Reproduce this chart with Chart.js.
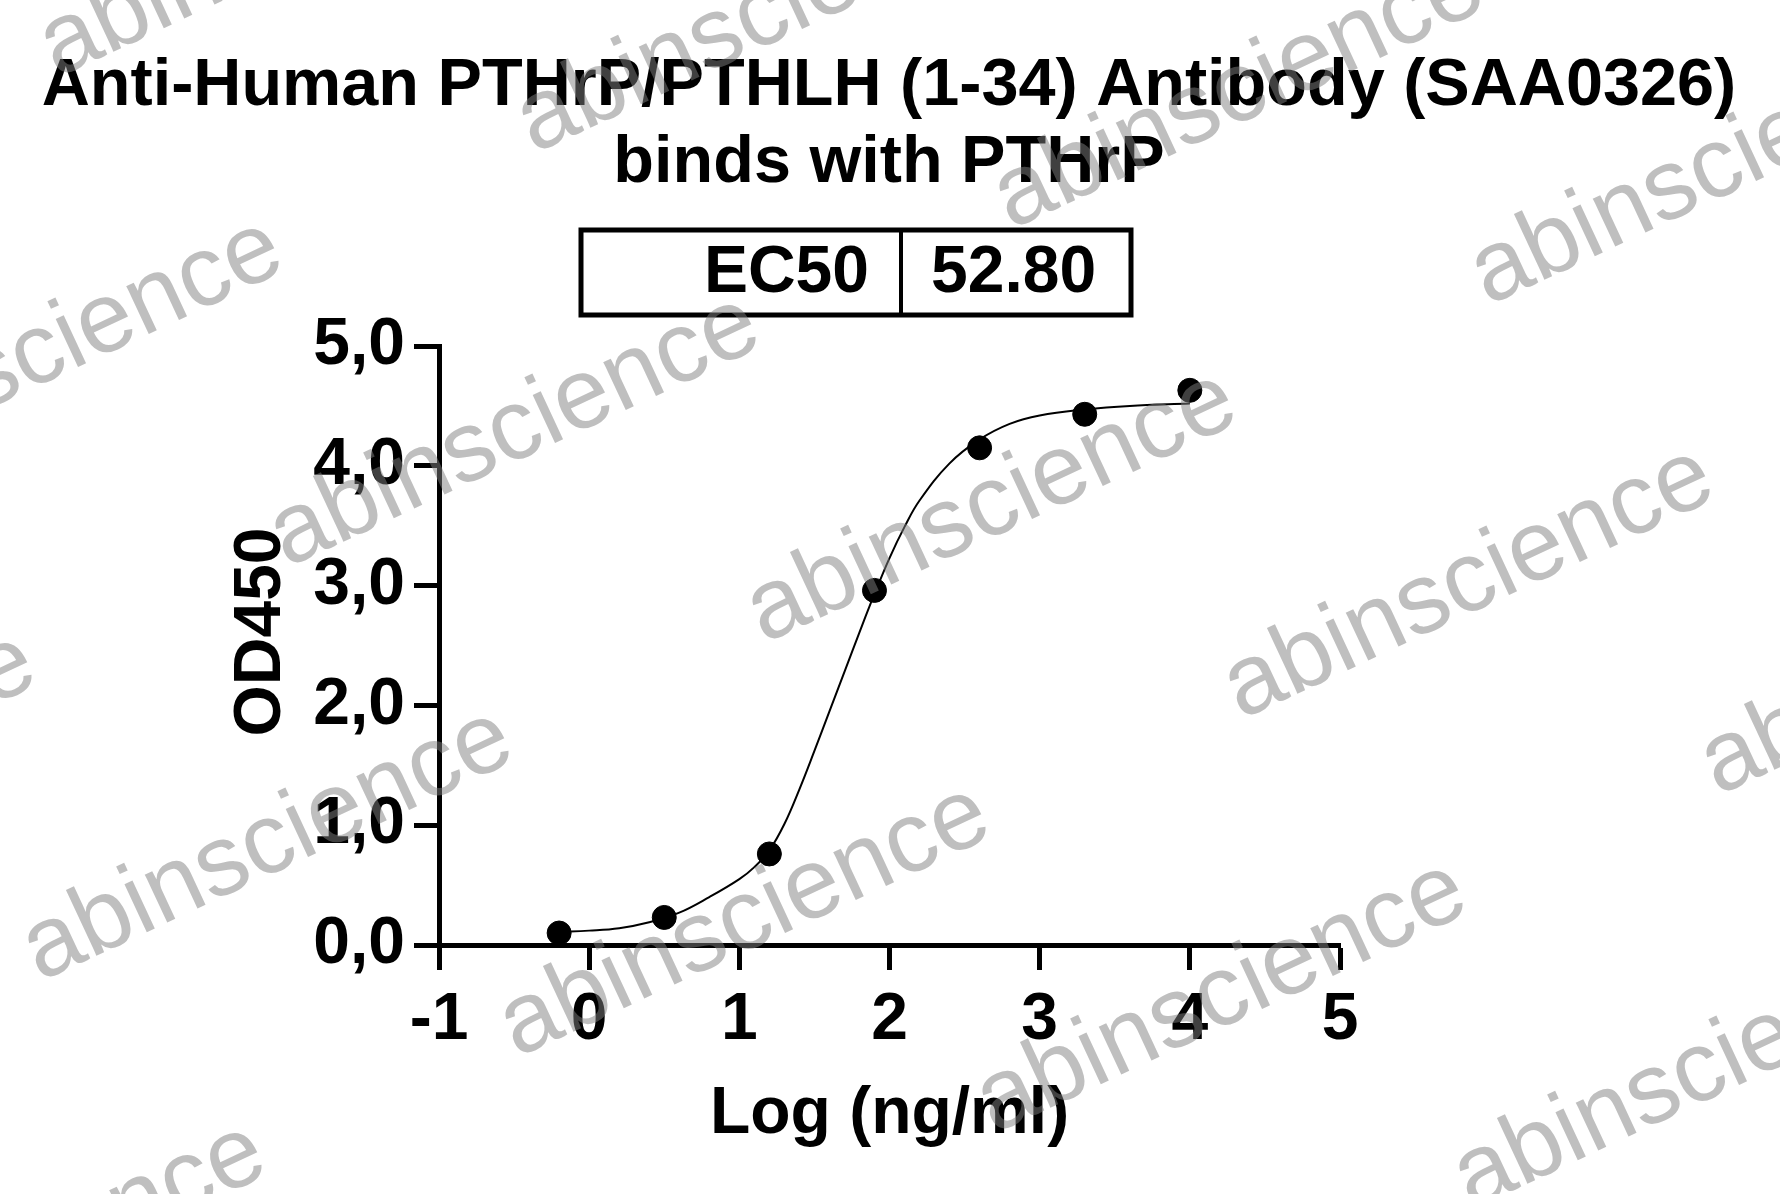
<!DOCTYPE html>
<html>
<head>
<meta charset="utf-8">
<title>PTHrP binding</title>
<script src="https://cdn.jsdelivr.net/npm/chart.js@4.4.1/dist/chart.umd.min.js"></script>
<style>
    body { margin: 0; background: #fff; }
    #wrap { width: 1780px; height: 1194px; }
</style>
</head>
<body>
<div id="wrap"><canvas id="elisaChart" width="1780" height="1194"></canvas></div>
<script>
    // measured points: log10 concentration (ng/ml) vs OD450
    const logConc = [-0.2, 0.5, 1.2, 1.9, 2.6, 3.3, 4.0];
    const od450 = [0.10, 0.23, 0.76, 2.96, 4.15, 4.43, 4.63];

    // fitted curve
    const fitX = [-0.2, 0.0, 0.2, 0.4, 0.6, 0.8, 1.0, 1.1, 1.2, 1.3, 1.4, 1.5, 1.6, 1.7, 1.8, 1.9, 2.0, 2.1, 2.2, 2.4, 2.6, 2.8, 3.0, 3.3, 3.6, 4.0];
    const fitY = [0.11, 0.12, 0.14, 0.19, 0.27, 0.40, 0.55, 0.65, 0.79, 1.01, 1.30, 1.62, 1.95, 2.28, 2.61, 2.93, 3.23, 3.49, 3.71, 4.02, 4.22, 4.35, 4.42, 4.47, 4.50, 4.52];

    const xTickLabels = ['-1', '0', '1', '2', '3', '4', '5'];
    const yTickLabels = ['0,0', '1,0', '2,0', '3,0', '4,0', '5,0'];

    const titleLines = ['Anti-Human PTHrP/PTHLH (1-34) Antibody (SAA0326)', 'binds with PTHrP'];
    const xTitle = 'Log (ng/ml)';
    const yTitle = 'OD450';
    const ec50Label = 'EC50';
    const ec50Value = '52.80';
    const watermark = 'abinscience';

    const FONT = "'Liberation Sans', Arial, sans-serif";

    const decor = {
        id: 'decor',
        afterDraw(chart) {
            const ctx = chart.ctx;
            ctx.save();
            ctx.fillStyle = '#000';
            ctx.textAlign = 'center';
            ctx.textBaseline = 'alphabetic';
            ctx.font = 'bold 66.6px ' + FONT;
            ctx.fillText(titleLines[0], 889, 105);
            ctx.fillText(titleLines[1], 889, 182);

            // EC50 table
            ctx.lineWidth = 5;
            ctx.strokeStyle = '#000';
            ctx.strokeRect(581, 230, 550, 85);
            ctx.lineWidth = 4;
            ctx.beginPath();
            ctx.moveTo(901, 230);
            ctx.lineTo(901, 315);
            ctx.stroke();
            ctx.font = 'bold 66px ' + FONT;
            ctx.textAlign = 'right';
            ctx.fillText(ec50Label, 869, 292);
            ctx.textAlign = 'left';
            ctx.fillText(ec50Value, 931, 292);

            // y axis title
            ctx.save();
            ctx.translate(280, 632);
            ctx.rotate(-Math.PI / 2);
            ctx.textAlign = 'center';
            ctx.fillText(yTitle, 0, 0);
            ctx.restore();

            // watermark tiles
            ctx.font = '100px ' + FONT;
            ctx.fillStyle = 'rgba(128,128,128,0.5)';
            ctx.textAlign = 'left';
            for (let r = -2; r <= 2; r++) {
                for (let c = -3; c <= 3; c++) {
                    const x = 764 + c * 477 - r * 247;
                    const y = 644 + c * 76 + r * 414;
                    ctx.save();
                    ctx.translate(x, y);
                    ctx.rotate(-25 * Math.PI / 180);
                    ctx.fillText(watermark, 0, 0);
                    ctx.restore();
                }
            }
            ctx.restore();
        }
    };

    const ctx = document.getElementById('elisaChart').getContext('2d');
    new Chart(ctx, {
        type: 'scatter',
        data: {
            datasets: [
                {
                    label: 'data',
                    data: logConc.map((x, i) => ({x: x, y: od450[i]})),
                    backgroundColor: '#000',
                    borderColor: '#000',
                    pointRadius: 12,
                    pointHoverRadius: 12,
                    order: 1
                },
                {
                    type: 'line',
                    label: 'fit',
                    data: fitX.map((x, i) => ({x: x, y: fitY[i]})),
                    borderColor: '#000',
                    borderWidth: 2,
                    pointRadius: 0,
                    fill: false,
                    tension: 0.4,
                    order: 2
                }
            ]
        },
        options: {
            responsive: false,
            animation: false,
            events: [],
            layout: {
                padding: {top: 346, right: 440, bottom: 0, left: 0}
            },
            scales: {
                x: {
                    type: 'linear',
                    min: -1,
                    max: 5,
                    afterFit: scale => { scale.height = 249; },
                    afterBuildTicks: scale => {
                        scale.ticks = xTickLabels.map(t => ({value: Number(t)}));
                    },
                    ticks: {
                        color: '#000',
                        padding: 11,
                        font: {family: FONT, size: 66, weight: 'bold'},
                        callback: (v, i) => xTickLabels[i]
                    },
                    grid: {drawOnChartArea: false, tickLength: 25, tickWidth: 5, tickColor: '#000'},
                    border: {display: true, width: 5, color: '#000'},
                    title: {
                        display: true,
                        text: xTitle,
                        color: '#000',
                        font: {family: FONT, size: 66, weight: 'bold'},
                        padding: {top: 0, bottom: 40}
                    }
                },
                y: {
                    min: 0,
                    max: 5,
                    afterFit: scale => { scale.width = 439; },
                    afterBuildTicks: scale => {
                        scale.ticks = yTickLabels.map((t, i) => ({value: i}));
                    },
                    ticks: {
                        color: '#000',
                        padding: 9,
                        font: {family: FONT, size: 66, weight: 'bold'},
                        callback: (v, i) => yTickLabels[i]
                    },
                    grid: {drawOnChartArea: false, tickLength: 25, tickWidth: 5, tickColor: '#000'},
                    border: {display: true, width: 5, color: '#000'}
                }
            },
            plugins: {
                legend: {display: false},
                title: {display: false},
                tooltip: {enabled: false}
            }
        },
        plugins: [decor]
    });
</script>
</body>
</html>
